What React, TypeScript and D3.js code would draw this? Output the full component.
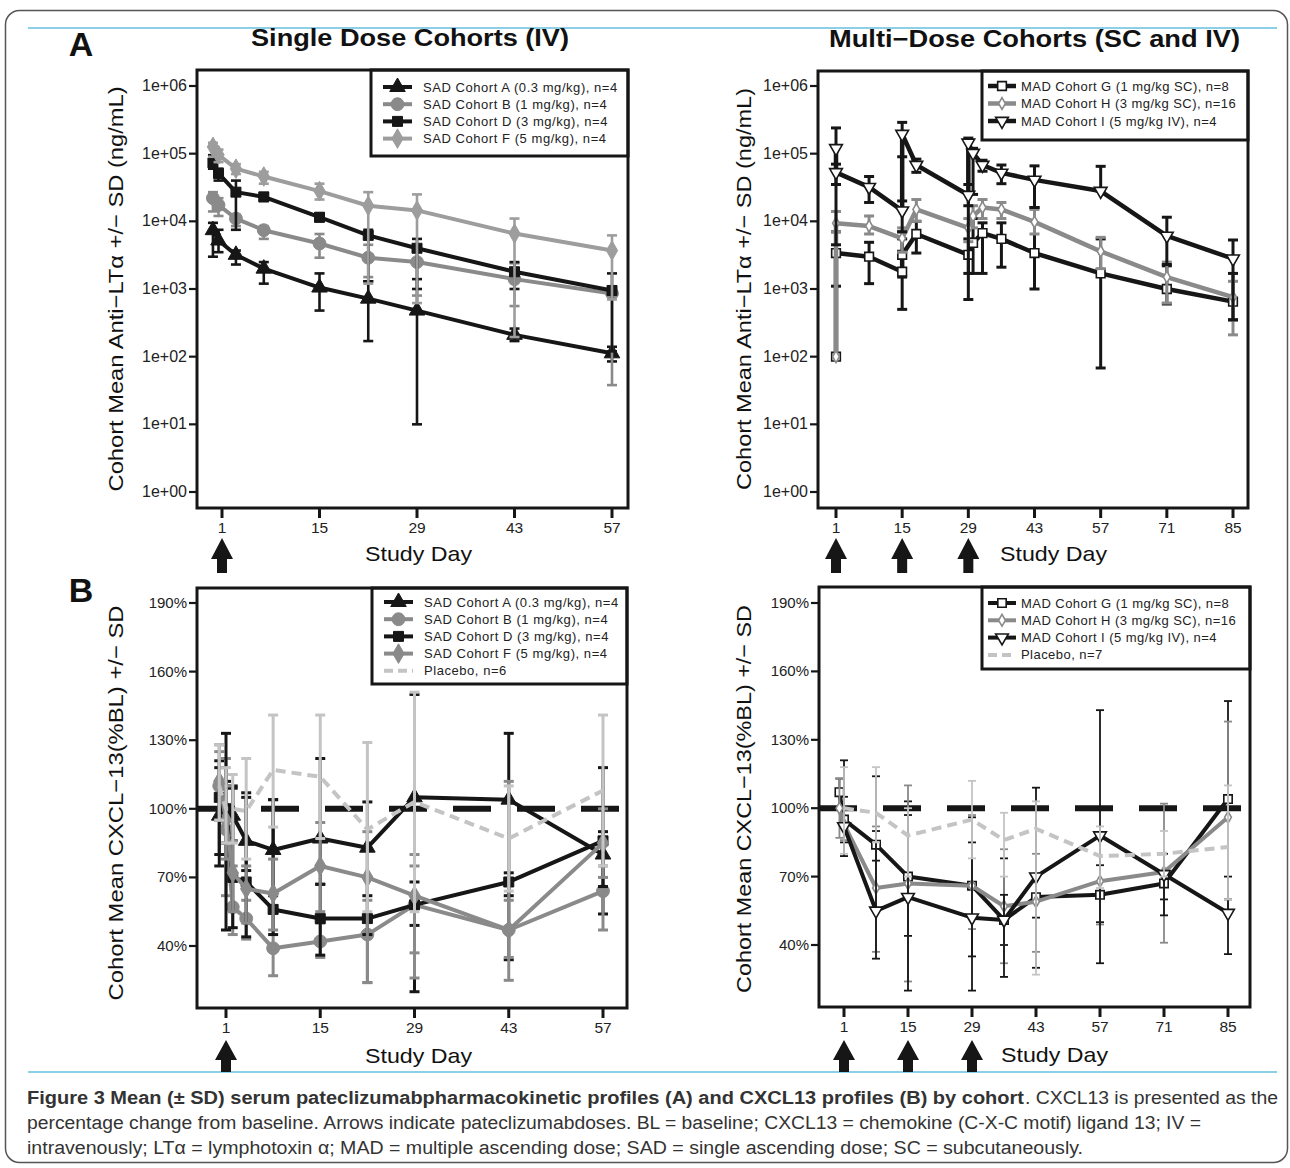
import React from 'react';
import * as d3 from 'd3';

const BLACK = '#161616';
const GRAY = '#8a8a8a';
const LIGHT = '#9d9d9d';
const PALE = '#c4c4c4';
const FONT = '"Liberation Sans", Arial, Helvetica, sans-serif';

// ---- Panel A, single dose, anti-LTa (ng/mL) ----
const sadPkDays = [-0.3, 0.5, 3, 7, 15, 22, 29, 43, 57];
const sadA_pk = [7.4e3, 5.2e3, 3.2e3, 2.0e3, 1.05e3, 720, 480, 210, 112];
const sadA_pkHi = [9.5e3, 7.5e3, 3.7e3, 2.5e3, 1.7e3, 1.3e3, 1.4e3, 260, 140];
const sadA_pkLo = [3.0e3, 3.5e3, 2.3e3, 1.2e3, 480, 170, 10, 170, 85];
const sadB_pk = [2.2e4, 1.74e4, 1.1e4, 7.4e3, 4.7e3, 2.9e3, 2.5e3, 1.4e3, 860];
const sadB_pkHi = [2.7e4, 2.2e4, 1.25e4, 8.5e3, 6.5e3, 4.5e3, 4.0e3, 2.4e3, 1.1e3];
const sadB_pkLo = [1.4e4, 1.2e4, 8.5e3, 5.5e3, 2.9e3, 1.5e3, 800, 560, 38];
const sadD_pk = [7.3e4, 5.1e4, 2.7e4, 2.3e4, 1.15e4, 6.2e3, 4.0e3, 1.8e3, 950];
const sadD_pkHi = [9.5e4, 6.0e4, 4.0e4, 2.6e4, 1.3e4, 7.5e3, 5.5e3, 2.5e3, 1.7e3];
const sadD_pkLo = [6.0e4, 4.0e4, 7.5e3, 2.0e4, 1.0e4, 1.3e3, 1.0e3, 1.0e3, 120];
const sadF_pk = [1.26e5, 9.6e4, 6.0e4, 4.6e4, 2.8e4, 1.7e4, 1.45e4, 6.6e3, 3.7e3];
const sadF_pkHi = [1.45e5, 1.15e5, 7.0e4, 5.4e4, 3.6e4, 2.7e4, 2.5e4, 1.1e4, 6.2e3];
const sadF_pkLo = [9.0e4, 7.5e4, 5.0e4, 3.6e4, 2.1e4, 1.2e3, 620, 195, 700];

// ---- Panel A, multi dose ----
const madG_pkDays = [1, 1, 8, 15, 15, 18, 29, 30, 32, 36, 43, 57, 71, 85];
const madG_pk = [100, 3.4e3, 3.0e3, 1.8e3, 3.2e3, 6.5e3, 3.2e3, 4.8e3, 6.7e3, 5.5e3, 3.4e3, 1.7e3, 1.0e3, 650];
const madG_pkHi = [100, 7.0e3, 4.9e3, 5.5e3, 7.0e3, 1.0e4, 5.5e3, 1.1e4, 9.5e3, 9.5e3, 1.6e4, 5.5e3, 2.2e3, 1.7e3];
const madG_pkLo = [100, 1.1e3, 1.2e3, 500, 1.5e3, 3.4e3, 700, 1.7e3, 1.7e3, 2.1e3, 1.0e3, 68, 600, 350];
const madH_pkDays = [1, 1, 8, 15, 18, 29, 30, 32, 36, 43, 57, 71, 85];
const madH_pk = [100, 9.4e3, 8.5e3, 5.6e3, 1.5e4, 8.0e3, 1.2e4, 1.6e4, 1.5e4, 9.8e3, 3.6e3, 1.5e3, 760];
const madH_pkHi = [100, 1.4e4, 1.2e4, 8.0e3, 2.1e4, 1.1e4, 1.7e4, 2.1e4, 1.9e4, 1.5e4, 5.8e3, 2.5e3, 1.3e3];
const madH_pkLo = [100, 7.0e3, 6.5e3, 3.5e3, 1.0e4, 5.0e3, 8.0e3, 1.1e4, 1.1e4, 6.5e3, 2.0e3, 620, 210];
const madI_pkDays = [1, 1, 8, 15, 15, 18, 29, 29, 30, 32, 36, 43, 57, 71, 85];
const madI_pk = [1.2e5, 5.3e4, 3.2e4, 1.44e4, 1.95e5, 6.8e4, 2.45e4, 1.45e5, 1.02e5, 6.8e4, 5.2e4, 4.1e4, 2.8e4, 6.1e3, 2.8e3];
const madI_pkHi = [2.4e5, 7.0e4, 4.6e4, 9.0e4, 2.9e5, 8.3e4, 3.5e4, 1.7e5, 1.2e5, 8.0e4, 6.8e4, 6.6e4, 6.5e4, 1.15e4, 5.3e3];
const madI_pkLo = [4.5e3, 3.5e4, 1.9e4, 7.0e3, 2.0e4, 5.3e4, 1.7e4, 1.7e3, 2.5e4, 5.5e4, 3.6e4, 1.6e4, 2.8e4, 2.3e3, 350];

// ---- Panel B, single dose, CXCL13 (% of baseline) ----
const sadCxDays = [0, 1, 2, 4, 8, 15, 22, 29, 43, 57];
const sadA_cx = [97, 100, 97, 86, 82, 87, 83, 105, 104, 80];
const sadA_cxHi = [121, 112, 110, 105, 104, 122, 103, 150, 133, 90];
const sadA_cxLo = [75, 85, 86, 73, 62, 67, 62, 20, 34, 54];
const sadB_cx = [110, 91, 57, 52, 39, 42, 45, 58, 47, 64];
const sadB_cxHi = [125, 122, 75, 60, 55, 50, 60, 75, 60, 75];
const sadB_cxLo = [95, 62, 45, 43, 27, 35, 24, 37, 25, 47];
const sadD_cx = [105, 100, 70, 68, 56, 52, 52, 58, 68, 86];
const sadD_cxHi = [118, 133, 109, 107, 104, 67, 70, 68, 72, 118];
const sadD_cxLo = [80, 47, 48, 44, 45, 36, 45, 49, 62, 66];
const sadF_cx = [112, 95, 72, 65, 63, 75, 70, 62, 47, 85];
const sadF_cxHi = [128, 110, 86, 75, 78, 94, 90, 80, 112, 100];
const sadF_cxLo = [95, 78, 55, 50, 47, 55, 24, 26, 35, 70];
const sadP_cx = [110, 100, 100, 99, 117, 114, 91, 103, 87, 108];
const sadP_cxHi = [128, 118, 115, 122, 141, 141, 129, 151, 110, 141];
const sadP_cxLo = [95, 85, 85, 78, 92, 87, 55, 55, 64, 75];

// ---- Panel B, multi dose ----
const madCxDays = [0, 1, 8, 15, 29, 36, 43, 57, 71, 85];
const madG_cx = [107, 95, 84, 70, 66, 51, 61, 62, 67, 104];
const madG_cxHi = [113, 105, 90, 103, 96, 78, 70, 75, 72, 147];
const madG_cxLo = [100, 85, 77, 44, 35, 40, 52, 50, 60, 60];
const madH_cx = [100, 93, 65, 67, 66, 57, 59, 68, 72, 96];
const madH_cxHi = [113, 100, 92, 110, 97, 82, 80, 88, 102, 138];
const madH_cxLo = [87, 86, 37, 24, 47, 32, 37, 49, 41, 55];
const madIP_cxDays = [1, 8, 15, 29, 36, 43, 57, 71, 85];
const madI_cx = [92, 55, 61, 52, 51, 70, 88, 71, 54];
const madI_cxHi = [121, 114, 97, 85, 62, 109, 143, 80, 70];
const madI_cxLo = [79, 34, 20, 20, 26, 30, 32, 53, 36];
const madP_cx = [100, 98, 88, 95, 86, 91, 79, 80, 83];
const madP_cxHi = [118, 118, 100, 112, 98, 103, 92, 90, 110];
const madP_cxLo = [80, 85, 70, 78, 70, 27, 65, 70, 60];

const sadLegend = ['SAD Cohort A (0.3 mg/kg), n=4', 'SAD Cohort B (1 mg/kg), n=4', 'SAD Cohort D (3 mg/kg), n=4', 'SAD Cohort F (5 mg/kg), n=4', 'Placebo, n=6'];
const madLegend = ['MAD Cohort G (1 mg/kg SC), n=8', 'MAD Cohort H (3 mg/kg SC), n=16', 'MAD Cohort I (5 mg/kg IV), n=4', 'Placebo, n=7'];

const pkTicks = [1, 10, 100, 1e3, 1e4, 1e5, 1e6];
const pkTickLabels = ['1e+00', '1e+01', '1e+02', '1e+03', '1e+04', '1e+05', '1e+06'];
const cxTicks = [40, 70, 100, 130, 160, 190];
const sadDayTicks = [1, 15, 29, 43, 57];
const madDayTicks = [1, 15, 29, 43, 57, 71, 85];
const sadDoseDays = [1];
const madDoseDays = [1, 15, 29];

type Series = {
  days: number[]; mean: number[]; hi: number[]; lo: number[];
  color: string; marker: string | null; size: number; open?: boolean; dash?: string;
  lw: number; bw: number; cap: number;
};

function markerPath(kind: string, size: number) {
  const t = kind === 'circle' ? d3.symbolCircle : kind === 'square' ? d3.symbolSquare
    : kind === 'diamond' ? d3.symbolDiamond : d3.symbolTriangle;
  return d3.symbol().type(t).size(size)() as string;
}

function Marker({ s, x, y }: { s: Series; x: number; y: number }) {
  if (!s.marker) return null;
  return (
    <path
      d={markerPath(s.marker, s.size)}
      transform={`translate(${x},${y})${s.marker === 'down' ? ' rotate(180)' : ''}`}
      fill={s.open ? '#fff' : s.color}
      stroke={s.color}
      strokeWidth={s.open ? 1.6 : 1}
    />
  );
}

function Panel({ cfg }: { cfg: any }) {
  const { x0, y0, x1, y1 } = cfg.box;
  const xs = cfg.x, ys = cfg.y;
  const series: Series[] = cfg.series;
  const lg = cfg.legend;
  const line = d3.line<[number, number]>().x(d => xs(d[0])).y(d => ys(d[1]));
  return (
    <g>
      {cfg.yTicks.map((t: number, i: number) => (
        <g key={'y' + i}>
          <line x1={x0 - 8} x2={x0} y1={ys(t)} y2={ys(t)} stroke={BLACK} strokeWidth={2.2} />
          <text x={x0 - 10} y={ys(t) + 5} textAnchor="end" fontSize={cfg.tickFont} fill="#222">{cfg.yLabels[i]}</text>
        </g>
      ))}
      {cfg.xTicks.map((t: number) => (
        <g key={'x' + t}>
          <line x1={xs(t)} x2={xs(t)} y1={y1} y2={y1 + 10} stroke={BLACK} strokeWidth={3} />
          <text x={xs(t)} y={y1 + 25} textAnchor="middle" fontSize={15.5} fill="#222">{t}</text>
        </g>
      ))}
      {cfg.refLine && (
        <line x1={x0} x2={x1} y1={ys(100)} y2={ys(100)} stroke={BLACK} strokeWidth={6} strokeDasharray="38,26" />
      )}
      {series.map((s, si) => (
        <g key={'s' + si}>
          {s.days.map((d, i) => {
            const x = xs(d);
            const a = ys(s.hi[i]), b = ys(s.lo[i]);
            if (Math.abs(a - b) < 0.5) return null;
            return (
              <g key={i} stroke={s.color} strokeWidth={s.bw}>
                <line x1={x} x2={x} y1={a} y2={b} />
                <line x1={x - s.cap} x2={x + s.cap} y1={a} y2={a} />
                <line x1={x - s.cap} x2={x + s.cap} y1={b} y2={b} />
              </g>
            );
          })}
          <path d={line(s.days.map((d, i) => [d, s.mean[i]] as [number, number])) as string}
            fill="none" stroke={s.color} strokeWidth={s.lw} strokeDasharray={s.dash} strokeLinejoin="round" />
          {s.days.map((d, i) => <Marker key={i} s={s} x={xs(d)} y={ys(s.mean[i])} />)}
        </g>
      ))}
      <rect x={lg.x0} y={y0} width={x1 - lg.x0} height={lg.y1 - y0} fill="#fff" stroke={BLACK} strokeWidth={3} />
      {series.map((s, i) => {
        const ry = lg.row0 + i * lg.step;
        return (
          <g key={'l' + i}>
            <line x1={lg.x0 + lg.s0} x2={lg.x0 + lg.s1} y1={ry} y2={ry} stroke={s.color} strokeWidth={s.lw}
              strokeDasharray={s.dash ? '9,5' : undefined} />
            <Marker s={s} x={lg.x0 + (lg.s0 + lg.s1) / 2} y={ry} />
            <text x={lg.x0 + lg.tx} y={ry + 4.5} fontSize={13} letterSpacing={lg.ls} fill="#222">{cfg.labels[i]}</text>
          </g>
        );
      })}
      <rect x={x0} y={y0} width={x1 - x0} height={y1 - y0} fill="none" stroke={BLACK} strokeWidth={3} />
      {cfg.doses.map((d: number) => {
        const x = xs(d);
        const [t, m, b] = cfg.arrowY;
        return (
          <path key={'a' + d} fill={BLACK}
            d={`M${x},${t}L${x + 11},${m}L${x + 5},${m}L${x + 5},${b}L${x - 5},${b}L${x - 5},${m}L${x - 11},${m}Z`} />
        );
      })}
      <text x={cfg.studyX} y={cfg.studyY} fontSize={21} textLength={107} lengthAdjust="spacingAndGlyphs" fill="#111">Study Day</text>
      <text transform={`translate(${cfg.ylab.x},${cfg.ylab.y}) rotate(-90)`} textAnchor="middle" fontSize={21}
        textLength={cfg.ylab.len} lengthAdjust="spacingAndGlyphs" fill="#111">{cfg.ylab.text}</text>
    </g>
  );
}

function mk(days: number[], mean: number[], hi: number[], lo: number[], style: any): Series {
  return { days, mean, hi, lo, ...style };
}

export default function App() {
  const yPk = d3.scaleLog().domain([1, 1e6]).range([492, 86]);
  const xSadPk = d3.scaleLinear().domain([1, 57]).range([222, 612]);
  const xMadPk = d3.scaleLinear().domain([1, 85]).range([836, 1233]);
  const ySadCx = d3.scaleLinear().domain([40, 190]).range([946, 603]);
  const yMadCx = d3.scaleLinear().domain([40, 190]).range([945, 603]);
  const xSadCx = d3.scaleLinear().domain([1, 57]).range([226, 603]);
  const xMadCx = d3.scaleLinear().domain([1, 85]).range([844, 1228]);

  const sA = { color: BLACK, marker: 'tri', size: 105, lw: 4, bw: 2.6, cap: 5 };
  const sB = { color: GRAY, marker: 'circle', size: 130, lw: 4, bw: 2.6, cap: 5 };
  const sD = { color: BLACK, marker: 'square', size: 100, lw: 4, bw: 2.6, cap: 5 };
  const sF = { color: LIGHT, marker: 'diamond', size: 110, lw: 4, bw: 2.6, cap: 5 };
  const sP = { color: PALE, marker: null, size: 0, lw: 4, bw: 2.6, cap: 5, dash: '10,6' };
  const sG = { color: BLACK, marker: 'square', size: 75, open: true, lw: 4.5, bw: 3, cap: 5 };
  const sH = { color: GRAY, marker: 'diamond', size: 40, open: true, lw: 4.5, bw: 3, cap: 5 };
  const sI = { color: BLACK, marker: 'down', size: 70, open: true, lw: 4.5, bw: 3, cap: 5 };
  const thin = { bw: 1.8, cap: 4, lw: 4 };

  const fmtPct = (t: number) => `${t}%`;
  const sadLg = { s0: 12, s1: 41, tx: 52, ls: 0.55 };
  const madLg = { s0: 6, s1: 34, tx: 39, ls: 0.45 };

  const panels = [
    {
      box: { x0: 197, y0: 70, x1: 628, y1: 508 }, x: xSadPk, y: yPk,
      yTicks: pkTicks, yLabels: pkTickLabels, tickFont: 16, xTicks: sadDayTicks, doses: sadDoseDays,
      arrowY: [538, 559, 573], studyX: 365, studyY: 561,
      ylab: { x: 123, y: 289, len: 405, text: 'Cohort Mean Anti\u2212LT\u03b1 +/\u2212 SD (ng/mL)' },
      legend: { x0: 371, y1: 156, row0: 87, step: 17.2, ...sadLg }, labels: sadLegend.slice(0, 4),
      series: [
        mk(sadPkDays, sadA_pk, sadA_pkHi, sadA_pkLo, sA),
        mk(sadPkDays, sadB_pk, sadB_pkHi, sadB_pkLo, sB),
        mk(sadPkDays, sadD_pk, sadD_pkHi, sadD_pkLo, sD),
        mk(sadPkDays, sadF_pk, sadF_pkHi, sadF_pkLo, sF),
      ],
    },
    {
      box: { x0: 818, y0: 71, x1: 1248, y1: 508 }, x: xMadPk, y: yPk,
      yTicks: pkTicks, yLabels: pkTickLabels, tickFont: 16, xTicks: madDayTicks, doses: madDoseDays,
      arrowY: [538, 559, 573], studyX: 1000, studyY: 561,
      ylab: { x: 751, y: 289, len: 402, text: 'Cohort Mean Anti\u2212LT\u03b1 +/\u2212 SD (ng/mL)' },
      legend: { x0: 982, y1: 140, row0: 86, step: 17.5, ...madLg }, labels: madLegend.slice(0, 3),
      series: [
        mk(madG_pkDays, madG_pk, madG_pkHi, madG_pkLo, sG),
        mk(madH_pkDays, madH_pk, madH_pkHi, madH_pkLo, sH),
        mk(madI_pkDays, madI_pk, madI_pkHi, madI_pkLo, sI),
      ],
    },
    {
      box: { x0: 197, y0: 588, x1: 627, y1: 1008 }, x: xSadCx, y: ySadCx, refLine: true,
      yTicks: cxTicks, yLabels: cxTicks.map(fmtPct), tickFont: 15, xTicks: sadDayTicks, doses: sadDoseDays,
      arrowY: [1040, 1060, 1072], studyX: 365, studyY: 1063,
      ylab: { x: 123, y: 803, len: 395, text: 'Cohort Mean CXCL\u221213(%BL) +/\u2212 SD' },
      legend: { x0: 372, y1: 684, row0: 602, step: 17.2, ...sadLg }, labels: sadLegend,
      series: [
        mk(sadCxDays, sadA_cx, sadA_cxHi, sadA_cxLo, { ...sA, bw: 3 }),
        mk(sadCxDays, sadB_cx, sadB_cxHi, sadB_cxLo, { ...sB, bw: 3 }),
        mk(sadCxDays, sadD_cx, sadD_cxHi, sadD_cxLo, { ...sD, bw: 3 }),
        mk(sadCxDays, sadF_cx, sadF_cxHi, sadF_cxLo, { ...sF, color: GRAY, bw: 3 }),
        mk(sadCxDays, sadP_cx, sadP_cxHi, sadP_cxLo, { ...sP, bw: 3 }),
      ],
    },
    {
      box: { x0: 819, y0: 587, x1: 1250, y1: 1007 }, x: xMadCx, y: yMadCx, refLine: true,
      yTicks: cxTicks, yLabels: cxTicks.map(fmtPct), tickFont: 15, xTicks: madDayTicks, doses: madDoseDays,
      arrowY: [1040, 1060, 1072], studyX: 1001, studyY: 1062,
      ylab: { x: 751, y: 799, len: 388, text: 'Cohort Mean CXCL\u221213(%BL) +/\u2212 SD' },
      legend: { x0: 982, y1: 669, row0: 603, step: 17.3, ...madLg }, labels: madLegend,
      series: [
        mk(madCxDays, madG_cx, madG_cxHi, madG_cxLo, { ...sG, ...thin, size: 70 }),
        mk(madCxDays, madH_cx, madH_cxHi, madH_cxLo, { ...sH, ...thin }),
        mk(madIP_cxDays, madI_cx, madI_cxHi, madI_cxLo, { ...sI, ...thin }),
        mk(madIP_cxDays, madP_cx, madP_cxHi, madP_cxLo, { ...sP, ...thin }),
      ],
    },
  ];

  return (
    <svg width={1290} height={1168} style={{ position: 'absolute', left: 0, top: 0, background: '#fff' }}
      fontFamily={FONT}>
      <rect x={5.5} y={10.5} width={1282} height={1152} rx={14} fill="#fff" stroke="#555" strokeWidth={1.5} />
      <line x1={28} x2={1277} y1={28} y2={28} stroke="#8ccfe6" strokeWidth={2} />
      <line x1={28} x2={1277} y1={1072} y2={1072} stroke="#8ccfe6" strokeWidth={2} />
      <text x={81} y={56} textAnchor="middle" fontSize={34} fontWeight="bold" fill="#111">A</text>
      <text x={81} y={602} textAnchor="middle" fontSize={34} fontWeight="bold" fill="#111">B</text>
      <text x={251} y={46} fontSize={23} fontWeight="bold" textLength={318} lengthAdjust="spacingAndGlyphs" fill="#111">Single Dose Cohorts (IV)</text>
      <text x={829} y={47} fontSize={23} fontWeight="bold" textLength={411} lengthAdjust="spacingAndGlyphs" fill="#111">Multi{'\u2212'}Dose Cohorts (SC and IV)</text>
      {panels.map((p, i) => <Panel key={i} cfg={p} />)}
      <g fontSize={18} fill="#333">
        <text x={27} y={1104} fontWeight="bold" textLength={997} lengthAdjust="spacingAndGlyphs">
          Figure 3 Mean (± SD) serum pateclizumabpharmacokinetic profiles (A) and CXCL13 profiles (B) by cohort
        </text>
        <text x={1025} y={1104} textLength={253} lengthAdjust="spacingAndGlyphs">. CXCL13 is presented as the</text>
        <text x={27} y={1129} textLength={1174} lengthAdjust="spacingAndGlyphs">
          percentage change from baseline. Arrows indicate pateclizumabdoses. BL = baseline; CXCL13 = chemokine (C-X-C motif) ligand 13; IV =
        </text>
        <text x={27} y={1154} textLength={1056} lengthAdjust="spacingAndGlyphs">
          intravenously; LT{'\u03b1'} = lymphotoxin {'\u03b1'}; MAD = multiple ascending dose; SAD = single ascending dose; SC = subcutaneously.
        </text>
      </g>
    </svg>
  );
}
